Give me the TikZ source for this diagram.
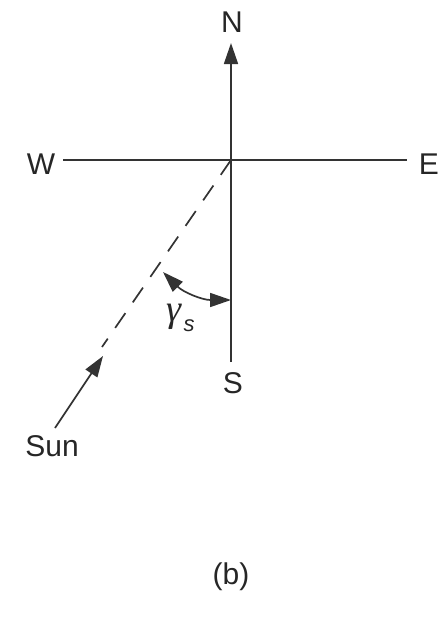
\documentclass[tikz,border=0pt]{standalone}
\usepackage{fontspec}
\setmainfont{Liberation Sans}
\newfontfamily\grkfont{Liberation Serif}
\usetikzlibrary{arrows.meta}
\begin{document}
\begin{tikzpicture}[x=1pt,y=-1pt,
  lbl/.style={font=\fontsize{30}{36}\selectfont, inner sep=0pt, text=black!85},
  ln/.style={line width=1.7pt, draw=black!80},
  hd/.tip={Triangle[length=21pt,width=14pt]},
  tip/.style={-hd}]
\useasboundingbox (0,0) rectangle (439,619);
\coordinate (O) at (231,160);
\node[lbl] (N) at (232,22) {N};
\node[lbl] (W) at (41,164) {W};
\node[lbl] (E) at (429,164) {E};
\node[lbl] (S) at (233,383) {S};
\node[lbl] (Sun) at (52,446) {Sun};
\node[lbl] (b) at (231,577) {(b)};
\node[lbl, font=\fontsize{38}{44}\selectfont, anchor=base] (g) at (174,321) {\grkfont\itshape γ};
\node[font=\fontsize{22}{26}\selectfont\itshape, inner sep=0pt, text=black!85] (sub) at (189,326) {s};
\coordinate (Ntip) at (231,43);
\coordinate (Wend) at (63,160);
\coordinate (Eend) at (407,160);
\coordinate (Send) at (231,362);
\coordinate (D) at (102,347);
\coordinate (A1) at (163,272);
\coordinate (A2) at (231,300);
\coordinate (SunA) at (55,428);
\coordinate (SunB) at (103,356);
\draw[ln] (Wend) -- (Eend);
\draw[ln, tip] (Send) -- (Ntip);
\draw[ln, dash pattern=on 18pt off 13pt] (O) -- (D);
\draw[ln, hd-hd] (A1) to[out=-45, in=180] (A2);
\draw[ln, tip] (SunA) -- (SunB);
\end{tikzpicture}
\end{document}
